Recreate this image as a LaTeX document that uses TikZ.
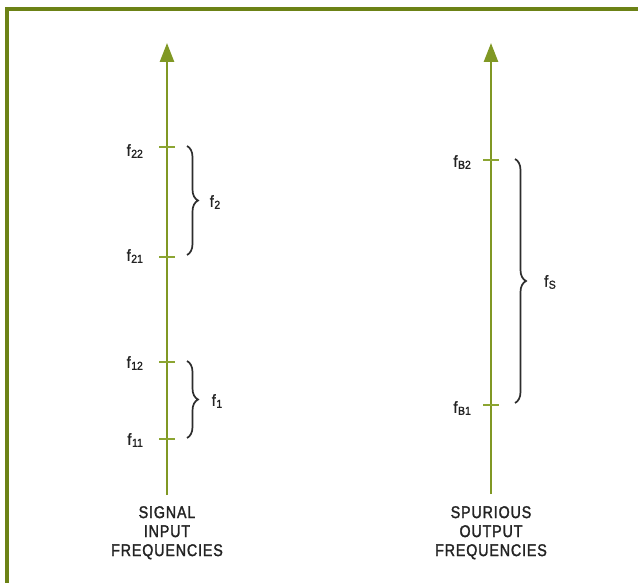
\documentclass[tikz,border=0pt]{standalone}
\usepackage{fontspec}
\setmainfont{Liberation Sans}
\newfontfamily\condfont[FakeStretch=0.84,LetterSpace=5,FakeBold=1.6]{Liberation Sans}
\newfontfamily\labfont[FakeStretch=0.9,FakeBold=1.4]{Liberation Sans}
\usetikzlibrary{arrows.meta,decorations.pathreplacing}
\definecolor{frameol}{RGB}{108,130,22}
\definecolor{axisol}{RGB}{128,152,36}
\definecolor{tickol}{RGB}{140,165,50}
\definecolor{bracegray}{RGB}{45,45,45}
\definecolor{txt}{RGB}{35,35,35}
\newcommand{\flab}[1]{{\labfont\fontsize{16}{16}\selectfont f}\kern0.6pt\raisebox{-2pt}{\labfont\fontsize{11.5}{11.5}\selectfont #1}}
\begin{document}
\begin{tikzpicture}[x=1pt,y=-1pt,
  frameline/.style={draw=frameol,line width=4pt,line join=miter},
  axisline/.style={draw=axisol,line width=2.6pt,-{Triangle[width=14pt,length=19pt]}},
  tickline/.style={draw=tickol,line width=1.6pt},
  bracebig/.style={draw=bracegray,line width=1.7pt,decorate,decoration={brace,amplitude=11pt,aspect=0.5}},
  flabel/.style={anchor=east,inner sep=0pt,text=txt},
  blabel/.style={anchor=center,inner sep=0pt,text=txt},
  caption/.style={anchor=north,inner sep=0pt,align=center,text=txt,font=\condfont\fontsize{17}{19}\selectfont}
]
\useasboundingbox (0,0) rectangle (638,583);
\fill[white] (0,0) rectangle (638,583);
% frame
\coordinate (fbl) at (6.5,583);
\coordinate (ftl) at (6.5,9.5);
\coordinate (ftr) at (640,9.5);
\draw[frameline] (fbl) -- (ftl) -- (ftr);
% axes
\coordinate (Lbot) at (167,495);
\coordinate (Ltop) at (167,43);
\coordinate (Rbot) at (491,494);
\coordinate (Rtop) at (491,43);
\draw[axisline] (Lbot) -- (Ltop);
\draw[axisline] (Rbot) -- (Rtop);
% ticks
\foreach \n/\x/\y in {t22/167/147, t21/167/257, t12/167/362, t11/167/439, tB2/491/160, tB1/491/405}{
  \coordinate (\n a) at (\x-8,\y);
  \coordinate (\n b) at (\x+8,\y);
  \draw[tickline] (\n a) -- (\n b);
}
% tick labels
\node[flabel] (l22) at (143,151) {\flab{22}};
\node[flabel] (l21) at (143,256) {\flab{21}};
\node[flabel] (l12) at (143,363) {\flab{12}};
\node[flabel] (l11) at (143,440) {\flab{11}};
\node[flabel] (lB2) at (471,162) {\flab{B2}};
\node[flabel] (lB1) at (471,408) {\flab{B1}};
% braces
\coordinate (b2t) at (187,146);
\coordinate (b2b) at (187,255);
\coordinate (b1t) at (187,361);
\coordinate (b1b) at (187,438);
\coordinate (bSt) at (515,159);
\coordinate (bSb) at (515,403);
\draw[bracebig] (b2t) -- (b2b);
\draw[bracebig] (b1t) -- (b1b);
\draw[bracebig] (bSt) -- (bSb);
\node[blabel] (f2) at (215,202) {\flab{2}};
\node[blabel] (f1) at (217,401) {\flab{1}};
\node[blabel] (fS) at (550,282) {\flab{S}};
% captions
\node[caption] (capL) at (167,506) {SIGNAL\\INPUT\\FREQUENCIES};
\node[caption] (capR) at (491,506) {SPURIOUS\\OUTPUT\\FREQUENCIES};
\end{tikzpicture}
\end{document}
